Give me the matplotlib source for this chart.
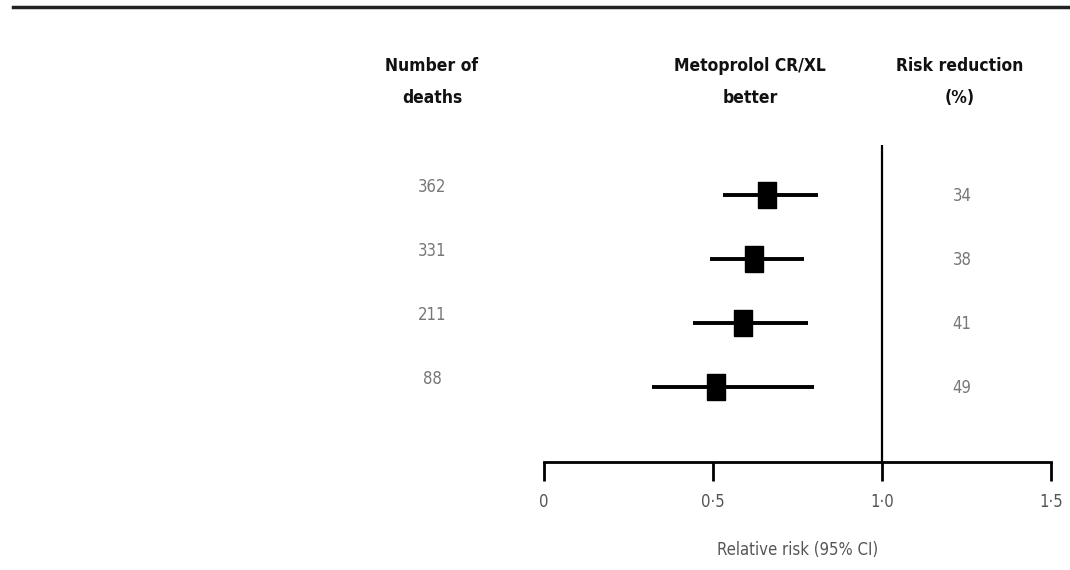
import matplotlib.pyplot as plt
import matplotlib.transforms as transforms
from matplotlib.lines import Line2D

plt.rcParams['font.family'] = ['DejaVu Sans']

# Data
deaths = [362, 331, 211, 88]
relative_risk = [0.66, 0.62, 0.59, 0.51]
ci_low = [0.53, 0.49, 0.44, 0.32]
ci_high = [0.81, 0.77, 0.78, 0.80]
risk_reduction = [34, 38, 41, 49]
xticks = [0, 0.5, 1.0, 1.5]
xtick_labels = ["0", "0\u00b75", "1\u00b70", "1\u00b75"]

fig = plt.figure(figsize=(10.7, 5.7), dpi=100)
fig.patch.set_facecolor('white')
ax = fig.add_axes([544 / 1070, 1 - 462 / 570, 507 / 1070, 317 / 570])

n = len(deaths)
rows = [n - i for i in range(n)]

# confidence intervals and point estimates
for y, rr, lo, hi in zip(rows, relative_risk, ci_low, ci_high):
    ax.plot([lo, hi], [y, y], color='black', lw=2.8, solid_capstyle='butt', zorder=2)
rect = [(-0.34, -0.5), (0.34, -0.5), (0.34, 0.5), (-0.34, 0.5), (-0.34, -0.5)]
ax.plot(relative_risk, rows, linestyle='none', marker=rect, markersize=19,
        color='black', zorder=3)

ax.axvline(1.0, color='black', lw=1.6, zorder=1)

ax.set_xlim(0, 1.5)
ax.set_ylim(-0.17, 4.78)
for s in ['top', 'right', 'left']:
    ax.spines[s].set_visible(False)
ax.spines['bottom'].set_linewidth(2)
ax.set_yticks([])
ax.set_xticks(xticks)
ax.set_xticklabels(xtick_labels, color='#555555', fontsize=12, stretch='condensed')
ax.tick_params(axis='x', direction='out', length=14, width=2, pad=8)
ax.set_xlabel("Relative risk (95% CI)", color='#555555', fontsize=12,
              stretch='condensed', labelpad=22)

# side columns
blend = transforms.blended_transform_factory(fig.transFigure, ax.transData)
for y, d, r in zip(rows, deaths, risk_reduction):
    ax.annotate(str(d), xy=(432 / 1070, y), xycoords=blend, xytext=(0, 6),
                textcoords='offset points', ha='center', va='center',
                fontsize=12, color='#777777', stretch='condensed', annotation_clip=False)
    ax.annotate(str(r), xy=(962 / 1070, y), xycoords=blend, xytext=(0, -1),
                textcoords='offset points', ha='center', va='center',
                fontsize=12, color='#777777', stretch='condensed', annotation_clip=False)

# column headers
hdr = dict(ha='center', va='center', fontsize=12.5, fontweight='bold',
           stretch='condensed', linespacing=2.0, color='#111111')
fig.text(432 / 1070, 1 - 82 / 570, "Number of\ndeaths", **hdr)
fig.text(750 / 1070, 1 - 82 / 570, "Metoprolol CR/XL\nbetter", **hdr)
fig.text(960 / 1070, 1 - 82 / 570, "Risk reduction\n(%)", **hdr)

# top rule
fig.add_artist(Line2D([13 / 1070, 1.0], [1 - 7 / 570, 1 - 7 / 570],
                      transform=fig.transFigure, color='#222222', lw=2.5))

fig.savefig('out.png', dpi=100)
